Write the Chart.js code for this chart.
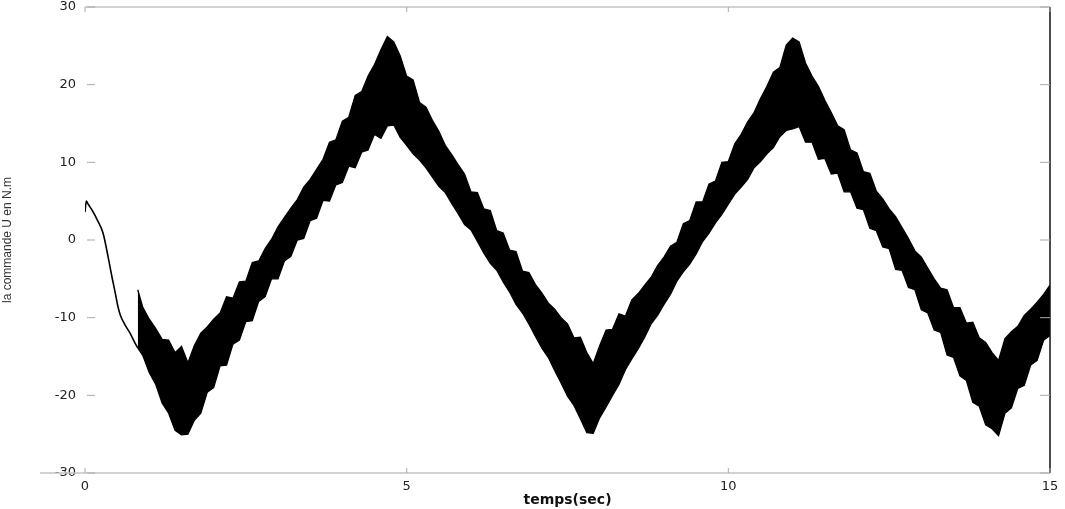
<!DOCTYPE html>
<html>
<head>
<meta charset="utf-8">
<script src="https://cdn.jsdelivr.net/npm/chart.js@4.4.1/dist/chart.umd.min.js"></script>
<style>
  html, body { margin: 0; padding: 0; background: #fff; }
  #wrap { width: 1065px; height: 509px; }
</style>
</head>
<body>
<div id="wrap"><canvas id="cmdChart" width="1065" height="509"></canvas></div>
<script>
// start-up transient (smooth part before the chattering)
const tInit = [0, 0.02, 0.05, 0.12, 0.19, 0.28, 0.36, 0.42, 0.47, 0.51, 0.55, 0.62, 0.70, 0.78, 0.82];
const uInit = [3.6, 5.0, 4.6, 3.7, 2.6, 0.9, -2.2, -4.8, -6.8, -8.5, -9.7, -10.9, -12.0, -13.3, -13.9];

// chattering band: sample times, upper and lower envelope
const tBand = [0.82, 0.9, 1.0, 1.1, 1.2, 1.3, 1.4, 1.5, 1.6, 1.7, 1.8, 1.9, 2.0, 2.1, 2.2, 2.3, 2.4, 2.5, 2.6, 2.7, 2.8, 2.9,
  3.0, 3.1, 3.2, 3.3, 3.4, 3.5, 3.6, 3.7, 3.8, 3.9, 4.0, 4.1, 4.2, 4.3, 4.4, 4.5, 4.6, 4.7, 4.8, 4.9,
  5.0, 5.1, 5.2, 5.3, 5.4, 5.5, 5.6, 5.7, 5.8, 5.9, 6.0, 6.1, 6.2, 6.3, 6.4, 6.5, 6.6, 6.7, 6.8, 6.9,
  7.0, 7.1, 7.2, 7.3, 7.4, 7.5, 7.6, 7.7, 7.8, 7.9, 8.0, 8.1, 8.2, 8.3, 8.4, 8.5, 8.6, 8.7, 8.8, 8.9,
  9.0, 9.1, 9.2, 9.3, 9.4, 9.5, 9.6, 9.7, 9.8, 9.9, 10.0, 10.1, 10.2, 10.3, 10.4, 10.5, 10.6, 10.7, 10.8, 10.9,
  11.0, 11.1, 11.2, 11.3, 11.4, 11.5, 11.6, 11.7, 11.8, 11.9, 12.0, 12.1, 12.2, 12.3, 12.4, 12.5, 12.6, 12.7, 12.8, 12.9,
  13.0, 13.1, 13.2, 13.3, 13.4, 13.5, 13.6, 13.7, 13.8, 13.9, 14.0, 14.1, 14.2, 14.3, 14.4, 14.5, 14.6, 14.7, 14.8, 14.9, 15.0];

const uUpper = [-6.4, -8.7, -10.2, -11.4, -12.8, -12.9, -14.5, -13.7,
  -15.8, -13.6, -12.0, -11.2, -10.2, -9.4, -7.3, -7.5, -5.4, -5.3, -2.9, -2.7, -1.1, 0.1,
  1.7, 2.9, 4.1, 5.2, 6.8, 7.8, 9.1, 10.4, 12.6, 12.9, 15.3, 15.8, 18.6, 19.1, 21.1, 22.6, 24.5, 26.2, 25.5, 23.7,
  21.1, 20.6, 17.7, 17.1, 15.4, 14.0, 12.2, 11.0, 9.7, 8.5, 6.2, 6.1, 4.0, 3.8, 1.2, 0.9, -1.3, -1.5, -4.0, -4.2,
  -5.7, -6.8, -8.1, -8.9, -10.0, -10.8, -12.6, -12.5, -14.5, -15.9, -13.6, -11.6, -11.5, -9.5, -9.8, -7.7, -6.9, -5.8, -4.8, -3.3,
  -2.2, -0.8, -0.3, 2.1, 2.5, 4.9, 4.9, 7.2, 7.6, 10.0, 10.1, 12.4, 13.6, 15.2, 16.4, 18.2, 19.8, 21.6, 22.2, 25.1,
  26.0, 25.5, 22.8, 21.1, 19.8, 18.0, 16.4, 14.7, 14.2, 11.6, 11.2, 8.8, 8.6, 6.3, 5.3, 4.0, 3.0, 1.6, 0.2, -1.4,
  -2.2, -3.6, -5.0, -6.2, -6.4, -8.7, -8.7, -10.7, -10.6, -12.6, -13.2, -14.5, -15.5, -12.7, -11.8, -11.1, -9.7, -8.9, -8.0, -7.0, -5.8];

const uLower = [-13.9, -14.9, -17.1, -18.6, -21.0, -22.3, -24.5, -25.1,
  -25.0, -23.2, -22.3, -19.6, -19.0, -16.2, -16.1, -13.4, -12.9, -10.5, -10.4, -7.9, -7.3, -5.0,
  -5.0, -2.7, -2.1, 0.0, 0.2, 2.5, 2.8, 5.1, 5.0, 7.1, 7.4, 9.5, 9.3, 11.3, 11.6, 13.6, 13.1, 14.7, 14.8, 13.2,
  12.2, 11.1, 10.3, 9.3, 8.1, 6.9, 6.1, 4.7, 3.4, 2.0, 1.3, -0.2, -1.7, -3.0, -3.9, -5.4, -6.7, -8.3, -9.4, -10.8,
  -12.4, -13.9, -15.1, -16.8, -18.4, -20.1, -21.3, -23.0, -24.8, -24.9, -22.9, -21.5, -20.0, -18.6, -16.7, -15.3, -14.0, -12.5, -10.8, -9.7,
  -8.3, -7.0, -5.3, -4.1, -3.1, -1.8, -0.2, 0.9, 2.2, 3.3, 4.6, 5.9, 6.8, 7.8, 9.3, 10.1, 11.1, 11.9, 13.3, 14.1,
  14.3, 14.6, 12.6, 12.6, 10.4, 10.5, 8.5, 8.6, 6.2, 6.2, 4.1, 3.9, 1.5, 1.2, -0.9, -1.1, -3.8, -3.9, -6.1, -6.4,
  -9.0, -9.4, -11.6, -11.9, -14.8, -15.1, -17.5, -18.1, -20.9, -21.4, -23.8, -24.3, -25.2, -22.3, -21.6, -19.1, -18.7, -16.1, -15.5, -12.9, -12.3];

const xTicks = [0, 5, 10, 15];
const yTicks = [-30, -20, -10, 0, 10, 20, 30];

const toPts = (xs, ys) => xs.map((x, i) => ({ x: x, y: ys[i] }));

// frame + inward tick marks like the original figure
const framePlugin = {
  id: 'frame',
  afterDatasetsDraw(chart) {
    const { ctx, chartArea: a, scales } = chart;
    ctx.save();
    ctx.lineWidth = 1.5;
    ctx.strokeStyle = '#c4c4c4';
    ctx.beginPath();
    ctx.moveTo(a.left, a.top); ctx.lineTo(a.right, a.top);
    ctx.moveTo(a.left - 45, a.bottom); ctx.lineTo(a.right, a.bottom);
    ctx.stroke();
    ctx.strokeStyle = '#111';
    ctx.beginPath();
    ctx.moveTo(a.right, a.top); ctx.lineTo(a.right, a.bottom);
    ctx.stroke();
    ctx.strokeStyle = '#aaa';
    ctx.lineWidth = 1;
    ctx.beginPath();
    yTicks.forEach(v => {
      const py = scales.y.getPixelForValue(v);
      ctx.moveTo(a.left + 2, py); ctx.lineTo(a.left + 10, py);
      ctx.moveTo(a.right - 10, py); ctx.lineTo(a.right, py);
    });
    xTicks.forEach(v => {
      const px = scales.x.getPixelForValue(v);
      ctx.moveTo(px, a.bottom); ctx.lineTo(px, a.bottom - 5);
      ctx.moveTo(px, a.top); ctx.lineTo(px, a.top + 5);
    });
    ctx.stroke();
    ctx.restore();
  }
};

new Chart(document.getElementById('cmdChart'), {
  type: 'line',
  data: {
    datasets: [
      {
        data: toPts(tInit, uInit),
        borderColor: '#000',
        borderWidth: 1.6,
        pointRadius: 0,
        cubicInterpolationMode: 'monotone',
        fill: false
      },
      {
        data: toPts(tBand, uUpper),
        borderColor: '#000',
        borderWidth: 1.3,
        pointRadius: 0,
        fill: false
      },
      {
        data: toPts(tBand, uLower),
        borderColor: '#000',
        borderWidth: 1.3,
        pointRadius: 0,
        backgroundColor: '#000',
        fill: '-1'
      }
    ]
  },
  options: {
    responsive: false,
    animation: false,
    layout: { padding: { left: 0, right: 15, top: 7, bottom: 0 } },
    plugins: { legend: { display: false }, tooltip: { enabled: false } },
    scales: {
      x: {
        type: 'linear',
        min: 0, max: 15,
        afterBuildTicks: s => { s.ticks = xTicks.map(v => ({ value: v })); },
        afterFit: s => { s.height = 36; s.paddingLeft = 0; s.paddingRight = 0; },
        grid: { display: false, drawTicks: false },
        border: { display: false },
        ticks: { color: '#222', font: { family: 'DejaVu Sans', size: 13 }, padding: 6, maxRotation: 0 },
        title: {
          display: true, text: 'temps(sec)', color: '#111',
          font: { family: 'DejaVu Sans', size: 14, weight: 'bold' },
          padding: { top: 0, bottom: 0 }
        }
      },
      y: {
        min: -30, max: 30,
        afterBuildTicks: s => { s.ticks = yTicks.map(v => ({ value: v })); },
        afterFit: s => { s.width = 85; s.paddingTop = 0; s.paddingBottom = 0; },
        grid: { display: false, drawTicks: false },
        border: { display: false },
        ticks: { color: '#222', font: { family: 'DejaVu Sans', size: 13 }, padding: 9 },
        title: {
          display: true, text: 'la commande U en N.m', color: '#333',
          font: { family: 'Liberation Sans', size: 12 },
          padding: { top: 0, bottom: 0 }
        }
      }
    }
  },
  plugins: [framePlugin]
});
</script>
</body>
</html>
